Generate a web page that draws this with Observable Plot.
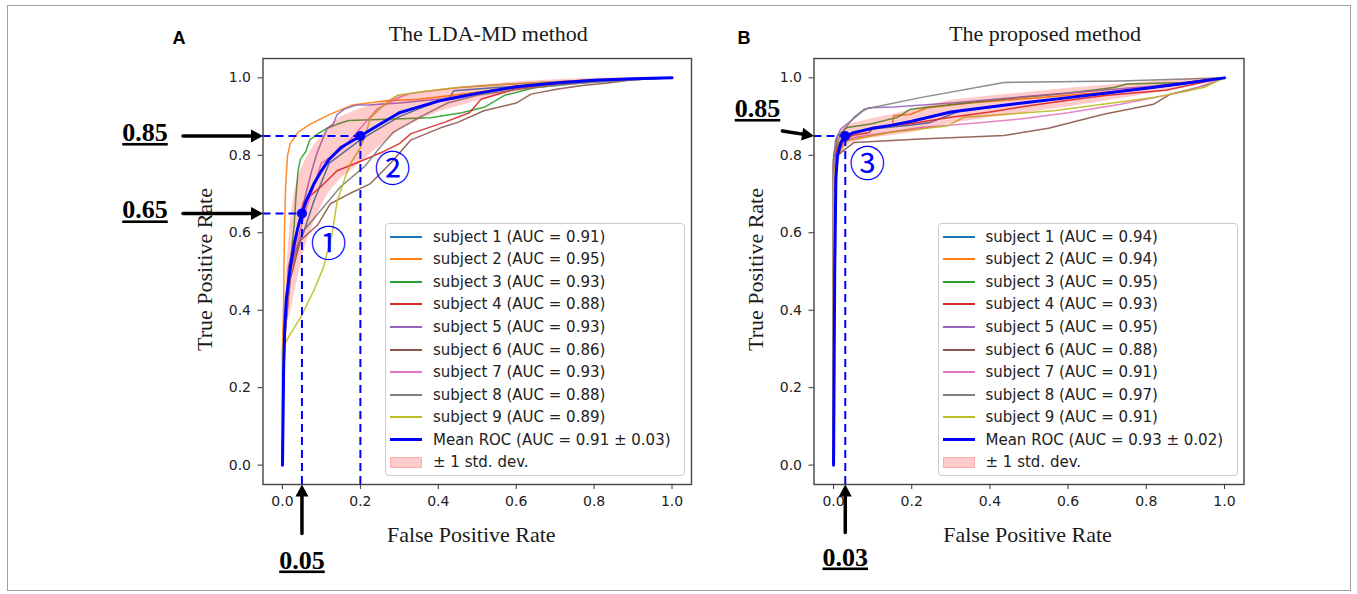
<!DOCTYPE html>
<html>
<head>
<meta charset="utf-8">
<script src="https://cdn.jsdelivr.net/npm/d3@7"></script>
<script src="https://cdn.jsdelivr.net/npm/@observablehq/plot@0.6"></script>
<style>
  body { margin: 0; background: #fff; }
  #fig { position: relative; width: 1357px; height: 594px; overflow: hidden; background: #fff; }
  #border { position: absolute; left: 7px; top: 5px; width: 1342px; height: 584px; border: 1px solid #a0a0a0; }
  .panel { position: absolute; top: 0; }
  .legend { position: absolute; box-sizing: border-box; width: 300px; height: 253px; top: 223px;
            border: 1px solid #cccccc; border-radius: 4px; background: rgba(255,255,255,0.8);
            font-family: "DejaVu Sans", sans-serif; font-size: 15px; color: #222; padding-top: 1.5px; }
  .row { height: 22.57px; display: flex; align-items: center; white-space: nowrap; }
  .sw { display: inline-block; width: 32px; margin-left: 4px; margin-right: 11px; }
</style>
</head>
<body>
<div id="fig"><div id="border"></div></div>
<script>
// ---------- data ----------
const xTicks = [0, 0.2, 0.4, 0.6, 0.8, 1.0];
const yTicks = [0, 0.2, 0.4, 0.6, 0.8, 1.0];
const subjectColors = ["#1f77b4","#ff7f0e","#2ca02c","#d62728","#9467bd","#8c564b","#e377c2","#7f7f7f","#bcbd22"];
const subjectNames = ["subject 1","subject 2","subject 3","subject 4","subject 5","subject 6","subject 7","subject 8","subject 9"];
const ldaAuc = [0.91, 0.95, 0.93, 0.88, 0.93, 0.86, 0.93, 0.88, 0.89];
const propAuc = [0.94, 0.94, 0.95, 0.93, 0.95, 0.88, 0.91, 0.97, 0.91];
const ldaMeanLabel = "Mean ROC (AUC = 0.91 ± 0.03)";
const propMeanLabel = "Mean ROC (AUC = 0.93 ± 0.02)";
const ldaTitle = "The LDA-MD method";
const propTitle = "The proposed method";

// LDA-MD subject ROC curves [fpr, tpr]
const ldaS1 = [[0,0],[0.003,0.3],[0.02,0.52],[0.054,0.6],[0.08,0.68],[0.12,0.78],[0.2,0.84],[0.25,0.87],[0.3,0.9],[0.35,0.92],[0.43,0.95],[0.44,0.967],[0.55,0.975],[0.7,0.985],[0.85,0.995],[1,1]];
const ldaS2 = [[0,0],[0,0.3],[0.003,0.42],[0.005,0.6],[0.008,0.72],[0.013,0.8],[0.02,0.83],[0.04,0.86],[0.07,0.88],[0.12,0.905],[0.18,0.93],[0.26,0.94],[0.35,0.945],[0.48,0.96],[0.55,0.97],[0.65,0.985],[0.8,0.995],[1,1]];
const ldaS3 = [[0,0],[0.003,0.25],[0.01,0.4],[0.02,0.52],[0.03,0.62],[0.035,0.7],[0.04,0.76],[0.046,0.79],[0.06,0.81],[0.07,0.84],[0.09,0.855],[0.115,0.87],[0.14,0.88],[0.17,0.89],[0.285,0.894],[0.38,0.897],[0.46,0.91],[0.52,0.925],[0.57,0.955],[0.65,0.975],[0.8,0.99],[1,1]];
const ldaS4 = [[0,0],[0.003,0.3],[0.02,0.5],[0.04,0.62],[0.054,0.68],[0.1,0.72],[0.14,0.76],[0.19,0.78],[0.26,0.81],[0.3,0.83],[0.33,0.856],[0.415,0.885],[0.48,0.91],[0.51,0.945],[0.6,0.972],[0.7,0.985],[0.85,0.995],[1,1]];
const ldaS5 = [[0,0],[0.003,0.3],[0.015,0.51],[0.03,0.58],[0.046,0.64],[0.06,0.7],[0.075,0.76],[0.09,0.81],[0.115,0.87],[0.13,0.88],[0.14,0.905],[0.16,0.92],[0.19,0.93],[0.22,0.93],[0.3,0.935],[0.41,0.946],[0.5,0.96],[0.6,0.975],[0.75,0.99],[1,1]];
const ldaS6 = [[0,0],[0.003,0.3],[0.02,0.48],[0.046,0.58],[0.09,0.62],[0.123,0.675],[0.17,0.7],[0.226,0.727],[0.278,0.78],[0.33,0.84],[0.406,0.871],[0.45,0.885],[0.517,0.915],[0.6,0.935],[0.638,0.958],[0.707,0.971],[0.77,0.98],[0.835,0.987],[0.9,0.995],[1,1]];
const ldaS7 = [[0,0],[0.003,0.3],[0.02,0.5],[0.054,0.64],[0.08,0.72],[0.1,0.78],[0.13,0.8],[0.157,0.82],[0.2,0.87],[0.244,0.92],[0.3,0.95],[0.33,0.96],[0.45,0.975],[0.6,0.985],[0.8,0.995],[1,1]];
const ldaS8 = [[0,0],[0.003,0.3],[0.02,0.5],[0.05,0.6],[0.1,0.66],[0.15,0.72],[0.21,0.77],[0.25,0.82],[0.285,0.86],[0.355,0.9],[0.424,0.935],[0.5,0.955],[0.6,0.97],[0.75,0.985],[0.9,0.995],[1,1]];
const ldaS9 = [[0,0],[0,0.3],[0.015,0.33],[0.046,0.38],[0.08,0.45],[0.105,0.51],[0.128,0.6],[0.14,0.68],[0.16,0.74],[0.175,0.78],[0.2,0.82],[0.215,0.86],[0.226,0.897],[0.26,0.93],[0.295,0.955],[0.37,0.966],[0.45,0.975],[0.6,0.985],[0.8,0.995],[1,1]];

// LDA-MD mean ROC and std
const ldaMeanFpr = [0,0.003,0.006,0.01,0.02,0.03,0.04,0.05,0.06,0.08,0.1,0.12,0.15,0.2,0.25,0.3,0.35,0.4,0.45,0.5,0.6,0.7,0.8,0.9,1.0];
const ldaMeanTpr = [0,0.25,0.36,0.43,0.51,0.57,0.615,0.65,0.68,0.725,0.76,0.79,0.82,0.85,0.88,0.91,0.925,0.94,0.95,0.96,0.977,0.987,0.994,0.998,1.0];
const ldaStd     = [0,0.02,0.04,0.07,0.12,0.13,0.13,0.12,0.11,0.1,0.09,0.085,0.08,0.07,0.055,0.045,0.035,0.028,0.024,0.02,0.013,0.008,0.005,0.002,0];

// Proposed method subject ROC curves [fpr, tpr]
const propS1 = [[0,0],[0,0.78],[0.008,0.82],[0.02,0.84],[0.05,0.86],[0.1,0.868],[0.137,0.872],[0.2,0.878],[0.248,0.885],[0.291,0.902],[0.325,0.915],[0.4,0.925],[0.5,0.937],[0.7,0.96],[0.9,0.985],[1,1]];
const propS2 = [[0,0],[0,0.79],[0.01,0.83],[0.03,0.85],[0.1,0.87],[0.15,0.877],[0.154,0.902],[0.197,0.906],[0.24,0.923],[0.35,0.935],[0.478,0.945],[0.6,0.955],[0.734,0.966],[0.85,0.98],[1,1]];
const propS3 = [[0,0],[0,0.8],[0.01,0.85],[0.035,0.872],[0.095,0.881],[0.163,0.898],[0.197,0.919],[0.308,0.932],[0.478,0.949],[0.6,0.96],[0.717,0.975],[0.751,0.984],[0.905,0.988],[1,1]];
const propS4 = [[0,0],[0,0.78],[0.01,0.82],[0.03,0.84],[0.05,0.852],[0.09,0.858],[0.103,0.872],[0.2,0.882],[0.3,0.898],[0.4,0.912],[0.5,0.928],[0.6,0.942],[0.7,0.955],[0.85,0.968],[1,1]];
const propS5 = [[0,0],[0,0.78],[0.005,0.84],[0.018,0.868],[0.04,0.885],[0.076,0.915],[0.09,0.923],[0.155,0.925],[0.31,0.936],[0.56,0.958],[0.82,0.979],[1,1]];
const propS6 = [[0,0],[0,0.76],[0.01,0.8],[0.035,0.82],[0.052,0.833],[0.222,0.842],[0.436,0.851],[0.55,0.87],[0.691,0.906],[0.819,0.932],[0.862,0.958],[0.95,0.98],[1,1]];
const propS7 = [[0,0],[0,0.77],[0.01,0.81],[0.03,0.835],[0.052,0.846],[0.222,0.872],[0.35,0.882],[0.478,0.894],[0.6,0.91],[0.734,0.932],[0.905,0.966],[1,1]];
const propS8 = [[0,0],[0,0.79],[0.008,0.83],[0.018,0.855],[0.052,0.898],[0.078,0.919],[0.222,0.949],[0.436,0.988],[0.734,0.992],[1,1]];
const propS9 = [[0,0],[0,0.74],[0.01,0.8],[0.035,0.838],[0.15,0.86],[0.291,0.876],[0.333,0.898],[0.563,0.915],[0.819,0.949],[0.947,0.975],[1,1]];

// Proposed mean ROC and std
const propMeanFpr = [0,0.003,0.006,0.01,0.02,0.03,0.05,0.1,0.15,0.2,0.3,0.4,0.5,0.6,0.7,0.8,0.9,1.0];
const propMeanTpr = [0,0.5,0.74,0.8,0.835,0.848,0.858,0.87,0.878,0.888,0.912,0.925,0.937,0.949,0.961,0.973,0.986,1.0];
const propStd     = [0,0.02,0.04,0.04,0.03,0.025,0.025,0.025,0.027,0.03,0.03,0.028,0.026,0.024,0.02,0.016,0.01,0];

// Operating points highlighted in each panel
const ldaPoints = [{fpr: 0.05, tpr: 0.65, tag: "①"}, {fpr: 0.2, tpr: 0.85, tag: "②"}];
const propPoints = [{fpr: 0.03, tpr: 0.85, tag: "③"}];
const ldaYMarks = [0.85, 0.65];
const ldaXMarks = [0.05];
const propYMarks = [0.85];
const propXMarks = [0.03];

// ---------- drawing ----------
const lo = -0.05, hi = 1.05; // matplotlib axis margins
const fmt2 = d3.format(".2f");
const serif = "Liberation Serif, Times New Roman, serif";

const shaftShape = { draw(ctx, l) { ctx.moveTo(0, 0); ctx.lineTo(0, -l + 10); } };
const headShape = { draw(ctx, l) { ctx.moveTo(-6.5, -l + 12); ctx.lineTo(0, -l); ctx.lineTo(6.5, -l + 12); ctx.closePath(); } };

function panel(cfg) {
  const band = cfg.meanFpr.map((f, i) => ({
    fpr: f, tpr: cfg.meanTpr[i],
    lo: Math.max(cfg.meanTpr[i] - cfg.std[i], 0),
    hi: Math.min(cfg.meanTpr[i] + cfg.std[i], 1)
  }));
  const yArrows = cfg.yMarks.map(v => ({x: lo, y: v, label: fmt2(v)}));
  const xArrows = cfg.xMarks.map(v => ({x: v, y: lo, label: fmt2(v)}));
  const marks = [];
  cfg.subjects.forEach((pts, i) => {
    marks.push(Plot.line(pts, {x: d => d[0], y: d => d[1], stroke: subjectColors[i], strokeWidth: 1.5, strokeOpacity: 0.9}));
  });
  marks.push(
    Plot.areaY(band, {x: "fpr", y1: "lo", y2: "hi", fill: "red", fillOpacity: 0.2}),
    Plot.line(band, {x: "fpr", y: "tpr", stroke: "#0000ff", strokeWidth: 3}),
    Plot.ruleY(cfg.points, {y: "tpr", x1: lo, x2: "fpr", stroke: "#0000ff", strokeWidth: 2, strokeDasharray: "8,5"}),
    Plot.ruleX(cfg.points, {x: "fpr", y1: lo, y2: "tpr", stroke: "#0000ff", strokeWidth: 2, strokeDasharray: "8,5"}),
    Plot.dot(cfg.points, {x: "fpr", y: "tpr", r: 5, fill: "#0000ff"})
  );
  cfg.points.forEach((p, i) => {
    marks.push(Plot.text([p], {x: "fpr", y: "tpr", text: "tag", dx: cfg.tagOffsets[i][0], dy: cfg.tagOffsets[i][1],
      fill: "#0000ff", fontFamily: "Noto Sans CJK SC", fontSize: 36, textAnchor: "middle", lineAnchor: "middle"}));
  });
  marks.push(
    Plot.frame({stroke: "#444", strokeWidth: 1.4}),
    Plot.axisX({ticks: xTicks, tickFormat: ".1f", tickSize: 5, tickPadding: 7, label: null, stroke: "#333", fill: "#222", fontSize: 14}),
    Plot.axisY({ticks: yTicks, tickFormat: ".1f", tickSize: 5, tickPadding: 7, label: null, stroke: "#333", fill: "#222", fontSize: 14}),
    // arrows to the highlighted values
    Plot.vector(yArrows, {x: "x", y: "y", length: cfg.yArrowLen, rotate: cfg.yArrowRot, anchor: "end", shape: shaftShape, stroke: "black", strokeWidth: 3.5}),
    Plot.vector(yArrows, {x: "x", y: "y", length: cfg.yArrowLen, rotate: cfg.yArrowRot, anchor: "end", shape: headShape, fill: "black", stroke: "none"}),
    Plot.vector(xArrows, {x: "x", y: "y", length: cfg.xArrowLen, rotate: 0, anchor: "end", shape: shaftShape, stroke: "black", strokeWidth: 3.5}),
    Plot.vector(xArrows, {x: "x", y: "y", length: cfg.xArrowLen, rotate: 0, anchor: "end", shape: headShape, fill: "black", stroke: "none"}),
    Plot.text(yArrows, {x: "x", y: "y", text: "label", dx: cfg.yLabelDx, dy: cfg.yLabelDy, lineAnchor: "bottom",
      fontFamily: serif, fontWeight: "bold", fontSize: 26, fill: "black", className: "ul"}),
    Plot.text(xArrows, {x: "x", y: "y", text: "label", dx: 0, dy: cfg.xLabelDy, lineAnchor: "bottom",
      fontFamily: serif, fontWeight: "bold", fontSize: 26, fill: "black", className: "ul"}),
    // titles and labels
    Plot.text([cfg.title], {frameAnchor: "top", dx: cfg.titleDx, dy: -18, lineAnchor: "bottom",
      fontFamily: serif, fontSize: 22, fill: "#1a1a1a"}),
    Plot.text([cfg.letter], {frameAnchor: "top-left", dx: cfg.letterDx, dy: -14.7, lineAnchor: "bottom", textAnchor: "middle",
      fontFamily: "Liberation Sans, Arial, sans-serif", fontWeight: "bold", fontSize: 18, fill: "black"}),
    Plot.text(["False Positive Rate"], {frameAnchor: "bottom", dx: cfg.xLabDx, dy: 57.7, lineAnchor: "bottom",
      fontFamily: serif, fontSize: 22, fill: "#1a1a1a"}),
    Plot.text(["True Positive Rate"], {frameAnchor: "left", dx: -58.5, dy: -2, rotate: -90, lineAnchor: "middle", textAnchor: "middle",
      fontFamily: serif, fontSize: 22, fill: "#1a1a1a"})
  );
  const svg = Plot.plot({
    width: cfg.width, height: 594,
    marginLeft: cfg.marginLeft, marginRight: cfg.marginRight, marginTop: 58, marginBottom: 110,
    x: {domain: [lo, hi], nice: false},
    y: {domain: [lo, hi], nice: false},
    style: {fontFamily: "DejaVu Sans, sans-serif", fontSize: "14px", color: "#222", background: "transparent", overflow: "visible"},
    marks
  });
  svg.querySelectorAll("g.ul text").forEach(t => {
    t.style.textDecoration = "underline";
    t.style.textDecorationThickness = "2px";
  });
  return svg;
}

function legend(left, auc, meanLabel) {
  const box = document.createElement("div");
  box.className = "legend";
  box.style.left = left + "px";
  auc.forEach((a, i) => {
    const row = document.createElement("div");
    row.className = "row";
    row.innerHTML = `<span class="sw" style="height:2px;background:${subjectColors[i]}"></span>${subjectNames[i]} (AUC = ${a.toFixed(2)})`;
    box.appendChild(row);
  });
  const m = document.createElement("div");
  m.className = "row";
  m.innerHTML = `<span class="sw" style="height:3px;background:#0000ff"></span>${meanLabel}`;
  box.appendChild(m);
  const s = document.createElement("div");
  s.className = "row";
  s.innerHTML = `<span class="sw" style="height:11px;box-sizing:border-box;background:rgba(255,0,0,0.2);border:1px solid rgba(255,0,0,0.15)"></span>± 1 std. dev.`;
  box.appendChild(s);
  return box;
}

const fig = document.getElementById("fig");

const svgA = panel({
  width: 700, marginLeft: 262.5, marginRight: 9,
  subjects: [ldaS1, ldaS2, ldaS3, ldaS4, ldaS5, ldaS6, ldaS7, ldaS8, ldaS9],
  meanFpr: ldaMeanFpr, meanTpr: ldaMeanTpr, std: ldaStd,
  points: ldaPoints, yMarks: ldaYMarks, xMarks: ldaXMarks,
  yArrowLen: 80, yArrowRot: 90, xArrowLen: 49,
  yLabelDx: -118, yLabelDy: 5, xLabelDy: 84,
  tagOffsets: [[26.5, 32], [32, 35]],
  title: ldaTitle, titleDx: 11, letter: "A", letterDx: -84, xLabDx: -6
});
const wrapA = document.createElement("div");
wrapA.className = "panel"; wrapA.style.left = "0px";
wrapA.appendChild(svgA);
fig.appendChild(wrapA);

const svgB = panel({
  width: 657, marginLeft: 113.5, marginRight: 113.5,
  subjects: [propS1, propS2, propS3, propS4, propS5, propS6, propS7, propS8, propS9],
  meanFpr: propMeanFpr, meanTpr: propMeanTpr, std: propStd,
  points: propPoints, yMarks: propYMarks, xMarks: propXMarks,
  yArrowLen: 32, yArrowRot: 99, xArrowLen: 48,
  yLabelDx: -56.5, yLabelDy: -19, xLabelDy: 81,
  tagOffsets: [[22, 30]],
  title: propTitle, titleDx: 16, letter: "B", letterDx: -70, xLabDx: -1.5
});
const wrapB = document.createElement("div");
wrapB.className = "panel"; wrapB.style.left = "700px";
wrapB.appendChild(svgB);
fig.appendChild(wrapB);

fig.appendChild(legend(385, ldaAuc, ldaMeanLabel));
fig.appendChild(legend(937.5, propAuc, propMeanLabel));
</script>
</body>
</html>
